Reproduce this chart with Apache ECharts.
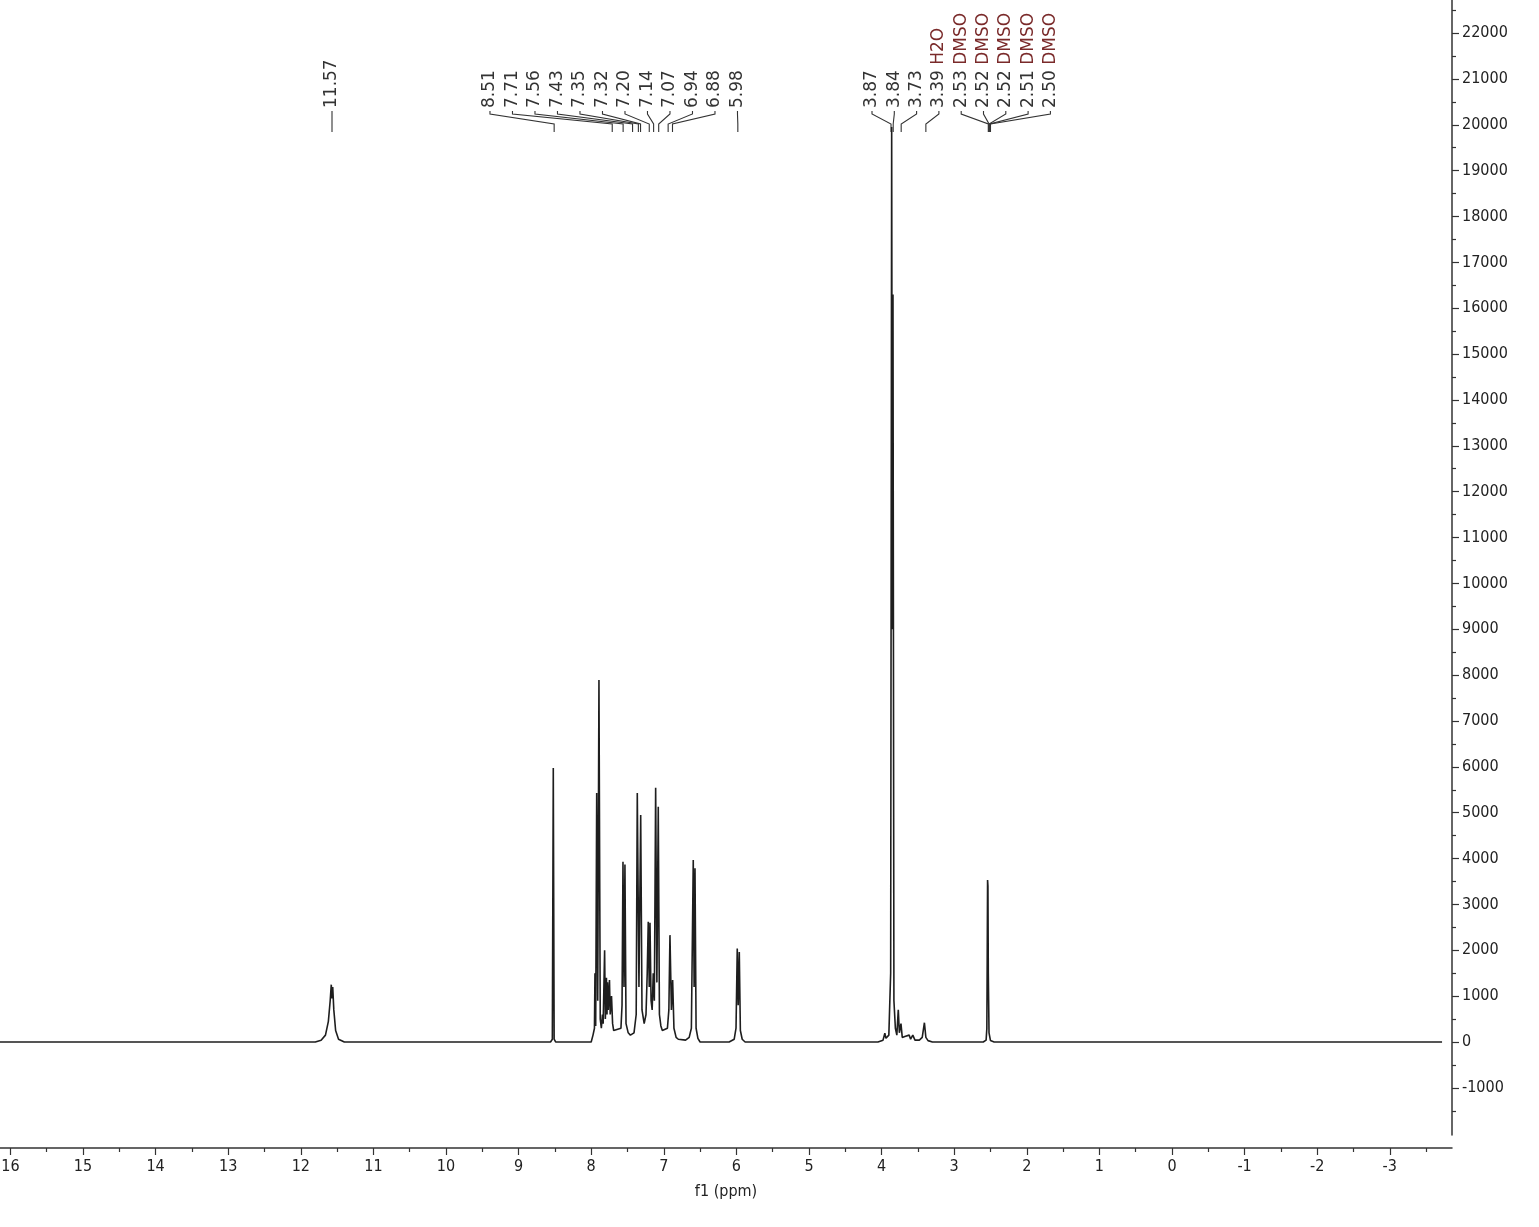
<!DOCTYPE html>
<html><head><meta charset="utf-8">
<script src="https://cdn.jsdelivr.net/npm/echarts@6/dist/echarts.min.js"></script>
<style>html,body{margin:0;padding:0;background:#fff;}#chart{width:1539px;height:1227px;}</style>
</head><body><div id="chart"></div>
<script>
// ---- data (ppm, intensity) ----
const baselineEnds = [[16.143, 0], [-3.72, 0]];
const nhPeak = [[11.80,0],[11.72,40],[11.66,150],[11.62,450],[11.595,900],[11.58,1250],[11.57,950],[11.56,1200],[11.545,700],[11.52,250],[11.48,60],[11.40,0]];
const aromaticPeaks = [
  [8.56,0],[8.535,60],[8.522,5975],[8.51,60],[8.49,0],
  [8.00,0],[7.975,150],[7.955,300],[7.948,1500],[7.938,350],[7.924,5430],[7.91,900],[7.893,7893],[7.875,500],[7.86,300],
  [7.845,600],[7.835,400],[7.815,2000],[7.805,500],[7.79,1400],[7.782,600],[7.775,1300],[7.765,700],[7.748,1350],[7.738,600],[7.72,1000],[7.705,400],[7.69,250],
  [7.59,300],[7.575,800],[7.562,3930],[7.548,1200],[7.535,3870],[7.52,400],[7.49,200],[7.46,150],[7.41,200],
  [7.38,600],[7.365,5430],[7.342,1200],[7.318,4950],[7.30,700],[7.27,400],[7.245,600],[7.228,1500],[7.214,2620],[7.20,1200],[7.19,2600],[7.175,900],[7.16,700],[7.145,1500],[7.13,900],[7.112,5545],[7.095,1300],[7.076,5130],[7.06,600],[7.04,350],[7.02,250],
  [6.95,300],[6.93,700],[6.915,2330],[6.895,700],[6.878,1350],[6.86,300],[6.83,100],[6.80,60],[6.70,40],
  [6.65,100],[6.62,300],[6.594,3970],[6.582,1200],[6.57,3790],[6.555,300],[6.53,80],[6.50,0],
  [6.10,0],[6.03,60],[6.005,300],[5.988,2040],[5.975,800],[5.96,1960],[5.945,250],[5.92,60],[5.88,0]
];
const methoxyPeaks = [
  [4.05,0],[3.98,40],[3.955,190],[3.94,80],[3.90,150],[3.875,1500],[3.861,19950],[3.852,9000],[3.843,16300],[3.83,900],[3.81,300],
  [3.79,150],[3.77,700],[3.755,200],[3.733,400],[3.715,100],[3.68,120],[3.62,150],[3.60,60],[3.57,150],[3.54,40],[3.48,40],[3.44,100],[3.41,420],[3.39,100],[3.36,30],[3.30,0]
];
const solventPeaks = [[2.60,0],[2.56,40],[2.55,300],[2.545,1800],[2.54,3530],[2.535,3400],[2.53,1500],[2.52,200],[2.50,30],[2.45,0]];
const xTickLabels = [16,15,14,13,12,11,10,9,8,7,6,5,4,3,2,1,0,-1,-2,-3];
const yTickLabels = [22000,21000,20000,19000,18000,17000,16000,15000,14000,13000,12000,11000,10000,9000,8000,7000,6000,5000,4000,3000,2000,1000,0,-1000];
const peakLabelGroups = [
  ['11.57'],
  ['8.51','7.71','7.56','7.43','7.35','7.32','7.20','7.14','7.07','6.94','6.88','5.98'],
  ['3.87','3.84','3.73','3.39 H2O','2.53 DMSO','2.52 DMSO','2.52 DMSO','2.51 DMSO','2.50 DMSO']
];

// ---- layout ----
const X_MIN = -3.857, X_MAX = 16.143, Y_MIN = -2028, Y_MAX = 22721;
const groupLayout = [{startPpm: 11.57, spacing: 0}, {startPpm: 9.394, spacing: 22.5}, {startPpm: 4.132, spacing: 22.3}];

const spectrum = [].concat([baselineEnds[0]], nhPeak, aromaticPeaks, methoxyPeaks, solventPeaks, [baselineEnds[1]])
  .sort((a, b) => b[0] - a[0]);

const labelItems = [];
peakLabelGroups.forEach((g, gi) => g.forEach((t, i) => labelItems.push({value: [parseFloat(t), 0], gi: gi, idx: i, text: t})));

const xMinor = [], yMinor = [];
for (let i = 0; i < xTickLabels.length; i++) xMinor.push(xTickLabels[i] - 0.5);
for (let i = 0; i < yTickLabels.length; i++) yMinor.push(yTickLabels[i] + 500);
yMinor.push(-1500);

const FONT = 'DejaVu Sans Condensed';
const chart = echarts.init(document.getElementById('chart'));
chart.setOption({
  animation: false,
  backgroundColor: '#fff',
  grid: {left: 0, right: 87, top: 0, bottom: 92, containLabel: false, outerBoundsMode: 'none'},
  xAxis: [
    {type: 'value', inverse: true, min: X_MIN, max: X_MAX, position: 'bottom', offset: 13,
     axisLine: {show: true, onZero: false, lineStyle: {color: '#333', width: 1.5}},
     axisTick: {show: true, customValues: xTickLabels, length: 7, lineStyle: {color: '#333', width: 1.2}},
     axisLabel: {customValues: xTickLabels, margin: 11, fontFamily: FONT, fontSize: 16, color: '#222', formatter: v => String(v)},
     splitLine: {show: false},
     name: 'f1 (ppm)', nameLocation: 'middle', nameGap: 36, nameTextStyle: {fontFamily: FONT, fontSize: 16, color: '#222'}},
    {type: 'value', inverse: true, min: X_MIN, max: X_MAX, position: 'bottom', offset: 13,
     axisLine: {show: false, onZero: false}, axisLabel: {show: false}, splitLine: {show: false},
     axisTick: {show: true, customValues: xMinor, length: 4, lineStyle: {color: '#333', width: 1.2}}}
  ],
  yAxis: [
    {type: 'value', min: Y_MIN, max: Y_MAX, position: 'right',
     axisLine: {show: true, onZero: false, lineStyle: {color: '#333', width: 1.5}},
     axisTick: {show: true, customValues: yTickLabels, length: 7, lineStyle: {color: '#333', width: 1.2}},
     axisLabel: {customValues: yTickLabels, margin: 10, fontFamily: FONT, fontSize: 16, color: '#222', align: 'left', formatter: v => String(v)},
     splitLine: {show: false}},
    {type: 'value', min: Y_MIN, max: Y_MAX, position: 'right',
     axisLine: {show: false, onZero: false}, axisLabel: {show: false}, splitLine: {show: false},
     axisTick: {show: true, customValues: yMinor, length: 4, lineStyle: {color: '#333', width: 1.2}}}
  ],
  series: [
    {type: 'line', data: spectrum, xAxisIndex: 0, yAxisIndex: 0, symbol: 'none', silent: true,
     lineStyle: {color: '#1e1e1e', width: 1.6}},
    {type: 'custom', coordinateSystem: 'cartesian2d', xAxisIndex: 0, yAxisIndex: 0, clip: false, silent: true,
     data: labelItems,
     renderItem: function (params, api) {
       const it = labelItems[params.dataIndex];
       const lay = groupLayout[it.gi];
       const px = api.coord([it.value[0], 0])[0];
       const lx = api.coord([lay.startPpm, 0])[0] + it.idx * lay.spacing;
       const parts = it.text.split(' ');
       const txt = parts.length > 1 ? '{n|' + parts[0] + '} {s|' + parts[1] + '}' : '{n|' + parts[0] + '}';
       return {type: 'group', children: [
         {type: 'text', x: lx, y: 108, rotation: Math.PI / 2,
          style: {text: txt, align: 'left', verticalAlign: 'middle', font: '17px "DejaVu Sans"', fill: '#333',
                  rich: {n: {fill: '#333', font: '17px "DejaVu Sans"'}, s: {fill: '#7a2a2a', font: '17px "DejaVu Sans"'}}}},
         {type: 'polyline', shape: {points: [[lx, 111], [lx, 114], [px, 124], [px, 132]]},
          style: {stroke: '#333', lineWidth: 1.1, fill: null}}
       ]};
     }}
  ]
});
</script></body></html>
